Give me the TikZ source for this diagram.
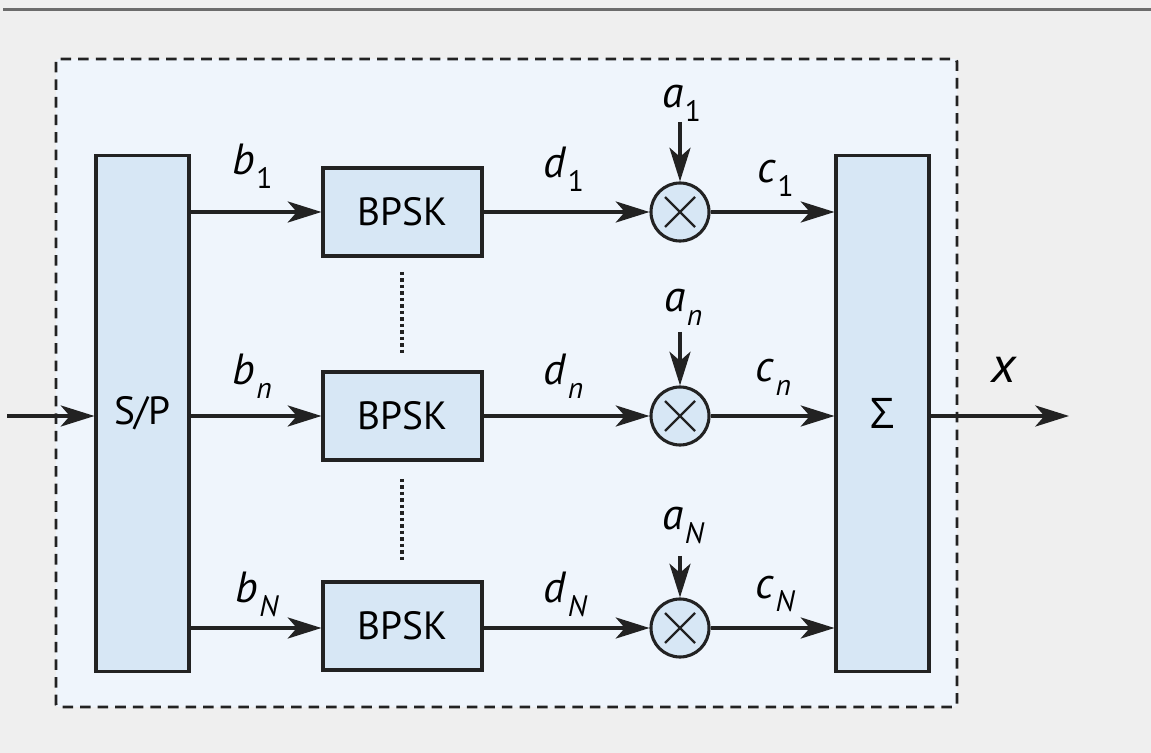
\documentclass[tikz,border=0pt]{standalone}
\usepackage{fontspec}
\setmainfont{PT Sans}
\newfontfamily\greekfont{Open Sans}
\usetikzlibrary{arrows.meta}

\definecolor{pagegray}{HTML}{EFEFEF}
\definecolor{panelblue}{HTML}{EFF5FC}
\definecolor{boxblue}{HTML}{D7E7F5}
\definecolor{inkdark}{HTML}{222222}

\newcommand{\sig}[2]{\textit{#1}\kern1pt\raisebox{-0.32em}{\fontsize{21}{21}\selectfont #2}}

\tikzset{
  flow/.style={draw=inkdark, line width=2.4pt, -{Stealth[length=24pt,width=15pt,inset=6.5pt]}},
  blockbox/.style={draw=inkdark, fill=boxblue, line width=2.2pt, inner sep=0pt,
    font=\fontsize{28}{28}\selectfont},
  mixer/.style={circle, draw=inkdark, fill=boxblue, line width=2.2pt, inner sep=0pt,
    minimum size=1.45cm},
  lbl/.style={anchor=base west, inner sep=0pt, font=\fontsize{31}{31}\selectfont},
  gapdots/.style={draw=inkdark, line width=2.6pt, dash pattern=on 2.4pt off 2.2pt}
}

\begin{document}
\begin{tikzpicture}[x=0.025cm, y=-0.025cm]
  % page and frame
  \fill[pagegray] (0,0) rectangle (1151,753);
  \useasboundingbox (0,0) rectangle (1151,753);
  \draw[gray!85!black, line width=1.8pt] (3,9.5) -- (1151,9.5);
  \draw[inkdark, fill=panelblue, line width=2.1pt, dash pattern=on 7.5pt off 5pt,
    rounded corners=2pt] (56,59) rectangle (957,707);

  % blocks
  \node[blockbox, minimum width=2.325cm, minimum height=12.875cm] (sp) at (142.5,413.5) {S/P};
  \node[blockbox, minimum width=2.325cm, minimum height=12.875cm] (sum) at (882.5,413.5) {\greekfont\fontsize{30}{30}\selectfont Σ};
  \node[blockbox, minimum width=3.975cm, minimum height=2.2cm] (bp1) at (402.5,212) {BPSK};
  \node[blockbox, minimum width=3.975cm, minimum height=2.2cm] (bpn) at (402.5,416) {BPSK};
  \node[blockbox, minimum width=3.975cm, minimum height=2.2cm] (bpN) at (402.5,626) {BPSK};
  \node[mixer] (mx1) at (680,212) {};
  \node[mixer] (mxn) at (680,416) {};
  \node[mixer] (mxN) at (680,628) {};
  \foreach \m in {mx1,mxn,mxN}{
    \draw[inkdark, line width=1.7pt] (\m.center) ++(-15,-15) -- ++(30,30);
    \draw[inkdark, line width=1.7pt] (\m.center) ++(-15,15) -- ++(30,-30);
  }

  % free ends
  \coordinate (src) at (7,416);
  \coordinate (dst) at (1069,416);
  \coordinate (ta1) at (680,122);
  \coordinate (tan) at (680,332);
  \coordinate (taN) at (680,556);

  % connectors
  \draw[flow] (src) -- (sp.west |- src);
  \draw[flow] (sp.east |- bp1) -- (bp1.west);
  \draw[flow] (sp.east |- bpn) -- (bpn.west);
  \draw[flow] (sp.east |- mxN) -- (bpN.west |- mxN);
  \draw[flow] (bp1.east) -- (mx1.west);
  \draw[flow] (bpn.east) -- (mxn.west);
  \draw[flow] (bpN.east |- mxN) -- (mxN.west);
  \draw[flow] (mx1.east) -- (sum.west |- mx1);
  \draw[flow] (mxn.east) -- (sum.west |- mxn);
  \draw[flow] (mxN.east) -- (sum.west |- mxN);
  \draw[flow] (ta1) -- (mx1.north);
  \draw[flow] (tan) -- (mxn.north);
  \draw[flow] (taN) -- (mxN.north);
  \draw[flow] (sum.east |- dst) -- (dst);

  % dotted gaps
  \draw[gapdots] (402,272) -- (402,355);
  \draw[gapdots] (402,479) -- (402,563);

  % labels
  \node[lbl] (lb1) at (232,175) {\sig{b}{1}};
  \node[lbl] (lbn) at (232,385) {\sig{b}{\textit{n}}};
  \node[lbl] (lbN) at (235,603) {\sig{b}{\textit{N}}};
  \node[lbl] (ld1) at (543,178) {\sig{d}{1}};
  \node[lbl] (ldn) at (543,385) {\sig{d}{\textit{n}}};
  \node[lbl] (ldN) at (543,603) {\sig{d}{\textit{N}}};
  \node[lbl] (la1) at (662,108) {\sig{a}{1}};
  \node[lbl] (lan) at (664,312) {\sig{a}{\textit{n}}};
  \node[lbl] (laN) at (662,530) {\sig{a}{\textit{N}}};
  \node[lbl] (lc1) at (757,183) {\sig{c}{1}};
  \node[lbl] (lcn) at (755,382) {\sig{c}{\textit{n}}};
  \node[lbl] (lcN) at (755,598) {\sig{c}{\textit{N}}};
  \node[lbl, font=\fontsize{36}{36}\selectfont] (lx) at (991,383) {\textit{x}};
\end{tikzpicture}
\end{document}
